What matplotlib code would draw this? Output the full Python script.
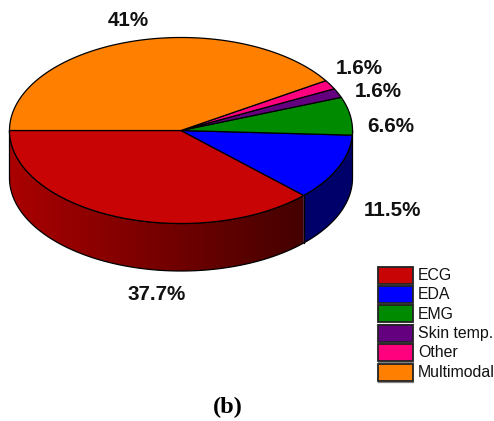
import numpy as np
import matplotlib
matplotlib.use("Agg")
import matplotlib.pyplot as plt
from matplotlib.patches import Polygon, Rectangle

categories = ["ECG", "EDA", "EMG", "Skin temp.", "Other", "Multimodal"]
shares = [37.7, 11.5, 6.6, 1.6, 1.6, 41.0]
share_labels = ["37.7%", "11.5%", "6.6%", "1.6%", "1.6%", "41%"]
top_colors = ["#c80404", "#0000ff", "#008a00", "#64007f", "#ff007f", "#ff8000"]
label_xy = [(157, 295), (392, 211), (390.5, 126), (378, 91.5), (359.5, 68), (128, 20)]

W, H = 494, 421
CX, CY, RX, RY, DEPTH = 181, 130.5, 171.5, 93, 47.5
START = 180.0


def rim(theta_deg, dy=0.0):
    t = np.radians(theta_deg)
    return CX + RX * np.cos(t), CY - RY * np.sin(t) + dy


fig = plt.figure(figsize=(W / 100, H / 100), dpi=100)
ax = fig.add_axes([0, 0, 1, 1])
ax.set_xlim(0, W)
ax.set_ylim(H, 0)
ax.axis("off")

edges = START + np.cumsum([0] + shares) * 3.6

# Outer wall of the disc: only the front half (180..360 degrees) is visible
t_front = np.linspace(180, 360, 300)
fx, fy = rim(t_front)
wall = np.column_stack([np.r_[fx, fx[::-1]], np.r_[fy, fy[::-1] + DEPTH]])

# ECG wall darkens from left to right
ecg_end = edges[1]
ex_end = rim(ecg_end)[0]
t_ecg = np.linspace(180, ecg_end, 200)
ex, ey = rim(t_ecg)
ecg_wall = Polygon(np.column_stack([np.r_[ex, ex[::-1]], np.r_[ey, ey[::-1] + DEPTH]]),
                   closed=True, facecolor="none", edgecolor="none")
ax.add_patch(ecg_wall)
shade = np.linspace(0, 1, 256)[None, :, None]
rgb = np.concatenate([(170 + (68 - 170) * shade) / 255,
                      np.zeros_like(shade), np.zeros_like(shade)], axis=2)
img = ax.imshow(rgb, extent=(CX - RX, ex_end, CY + RY + DEPTH, CY), aspect="auto", zorder=1)
img.set_clip_path(ecg_wall)
ax.set_xlim(0, W)
ax.set_ylim(H, 0)

# Remaining visible wall sections, up to the right-hand extreme of the disc
t_eda = np.linspace(ecg_end, 360, 80)
bx, by = rim(t_eda)
ax.add_patch(Polygon(np.column_stack([np.r_[bx, bx[::-1]], np.r_[by, by[::-1] + DEPTH]]),
                     closed=True, facecolor="#00006a", edgecolor="none", zorder=1))

# Wall outline
ax.add_patch(Polygon(wall, closed=True, facecolor="none", edgecolor="black", lw=0.9, zorder=2))
ax.plot([ex_end, ex_end], [rim(ecg_end)[1], rim(ecg_end)[1] + DEPTH], color="black", lw=0.9, zorder=2)

# Top face
for a, b, color in zip(edges[:-1], edges[1:], top_colors):
    x, y = rim(np.linspace(a, b, max(int(b - a) * 2, 8)))
    ax.add_patch(Polygon(np.column_stack([np.r_[CX, x], np.r_[CY, y]]), closed=True,
                         facecolor=color, edgecolor="black", lw=0.9, zorder=3, joinstyle="round"))

# Percentage labels
for text, (x, y) in zip(share_labels, label_xy):
    ax.text(x, y, text, ha="center", va="center", fontsize=14.9, fontweight="bold",
            family="Liberation Sans", color="#111111", zorder=5)

# Legend
LEG_X, LEG_Y, LEG_W, LEG_H, LEG_STEP = 377.5, 266.5, 35, 17, 19.4
for i, (name, color) in enumerate(zip(categories, top_colors)):
    y = LEG_Y + i * LEG_STEP
    ax.add_patch(Rectangle((LEG_X, y), LEG_W, LEG_H, facecolor=color, edgecolor="#222222", lw=1.3, zorder=3))
    ax.plot([LEG_X, LEG_X + LEG_W], [y + LEG_H + 1.2] * 2, color="#808080", lw=0.9, zorder=2)
    ax.text(418, y + LEG_H / 2 + 0.3, name, ha="left", va="center", fontsize=11.4,
            family="Liberation Sans", color="#111111", zorder=5)

ax.text(227.5, 407, "(b)", ha="center", va="center", fontsize=17.5, fontweight="bold",
        family="Liberation Serif", color="black")

fig.savefig("out.png", dpi=100, facecolor="white")
